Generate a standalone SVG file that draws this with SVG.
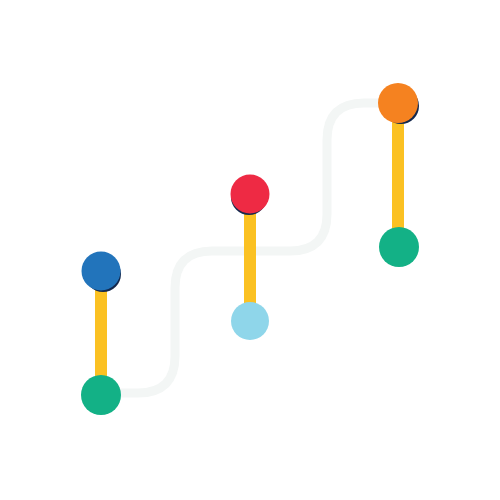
<svg xmlns="http://www.w3.org/2000/svg" width="500" height="500" viewBox="0 0 500 500">
<style>
.track{fill:none;stroke:#f3f6f5;stroke-width:9;stroke-linecap:round}
.bar{fill:#fbc122}
.sh{fill:#13284d}
</style>
<rect width="500" height="500" fill="#ffffff"/>
<g id="connectors">
<path class="track" d="M112 393 H138 Q175 393 175 356 V288 Q175 251 212 251 H290 Q327 251 327 214 V140 Q327 103 364 103 H385"/>
</g>
<g id="node-1">
<rect class="bar" x="95" y="280" width="12" height="110"/>
<circle class="sh" cx="103" cy="274" r="18"/>
<circle cx="101" cy="271" r="19.5" fill="#2274bb"/>
<circle cx="101" cy="395" r="20" fill="#13b186"/>
</g>
<g id="node-2">
<rect class="bar" x="244" y="205" width="12" height="110"/>
<circle class="sh" cx="249" cy="197" r="18"/>
<circle cx="250" cy="194" r="19.5" fill="#ee2a44"/>
<circle cx="250" cy="321" r="19" fill="#8fd6ea"/>
</g>
<g id="node-3">
<rect class="bar" x="392" y="115" width="12" height="125"/>
<circle class="sh" cx="401" cy="106" r="18"/>
<circle cx="398" cy="103" r="20" fill="#f58220"/>
<circle cx="399" cy="247" r="20" fill="#13b186"/>
</g>
</svg>
